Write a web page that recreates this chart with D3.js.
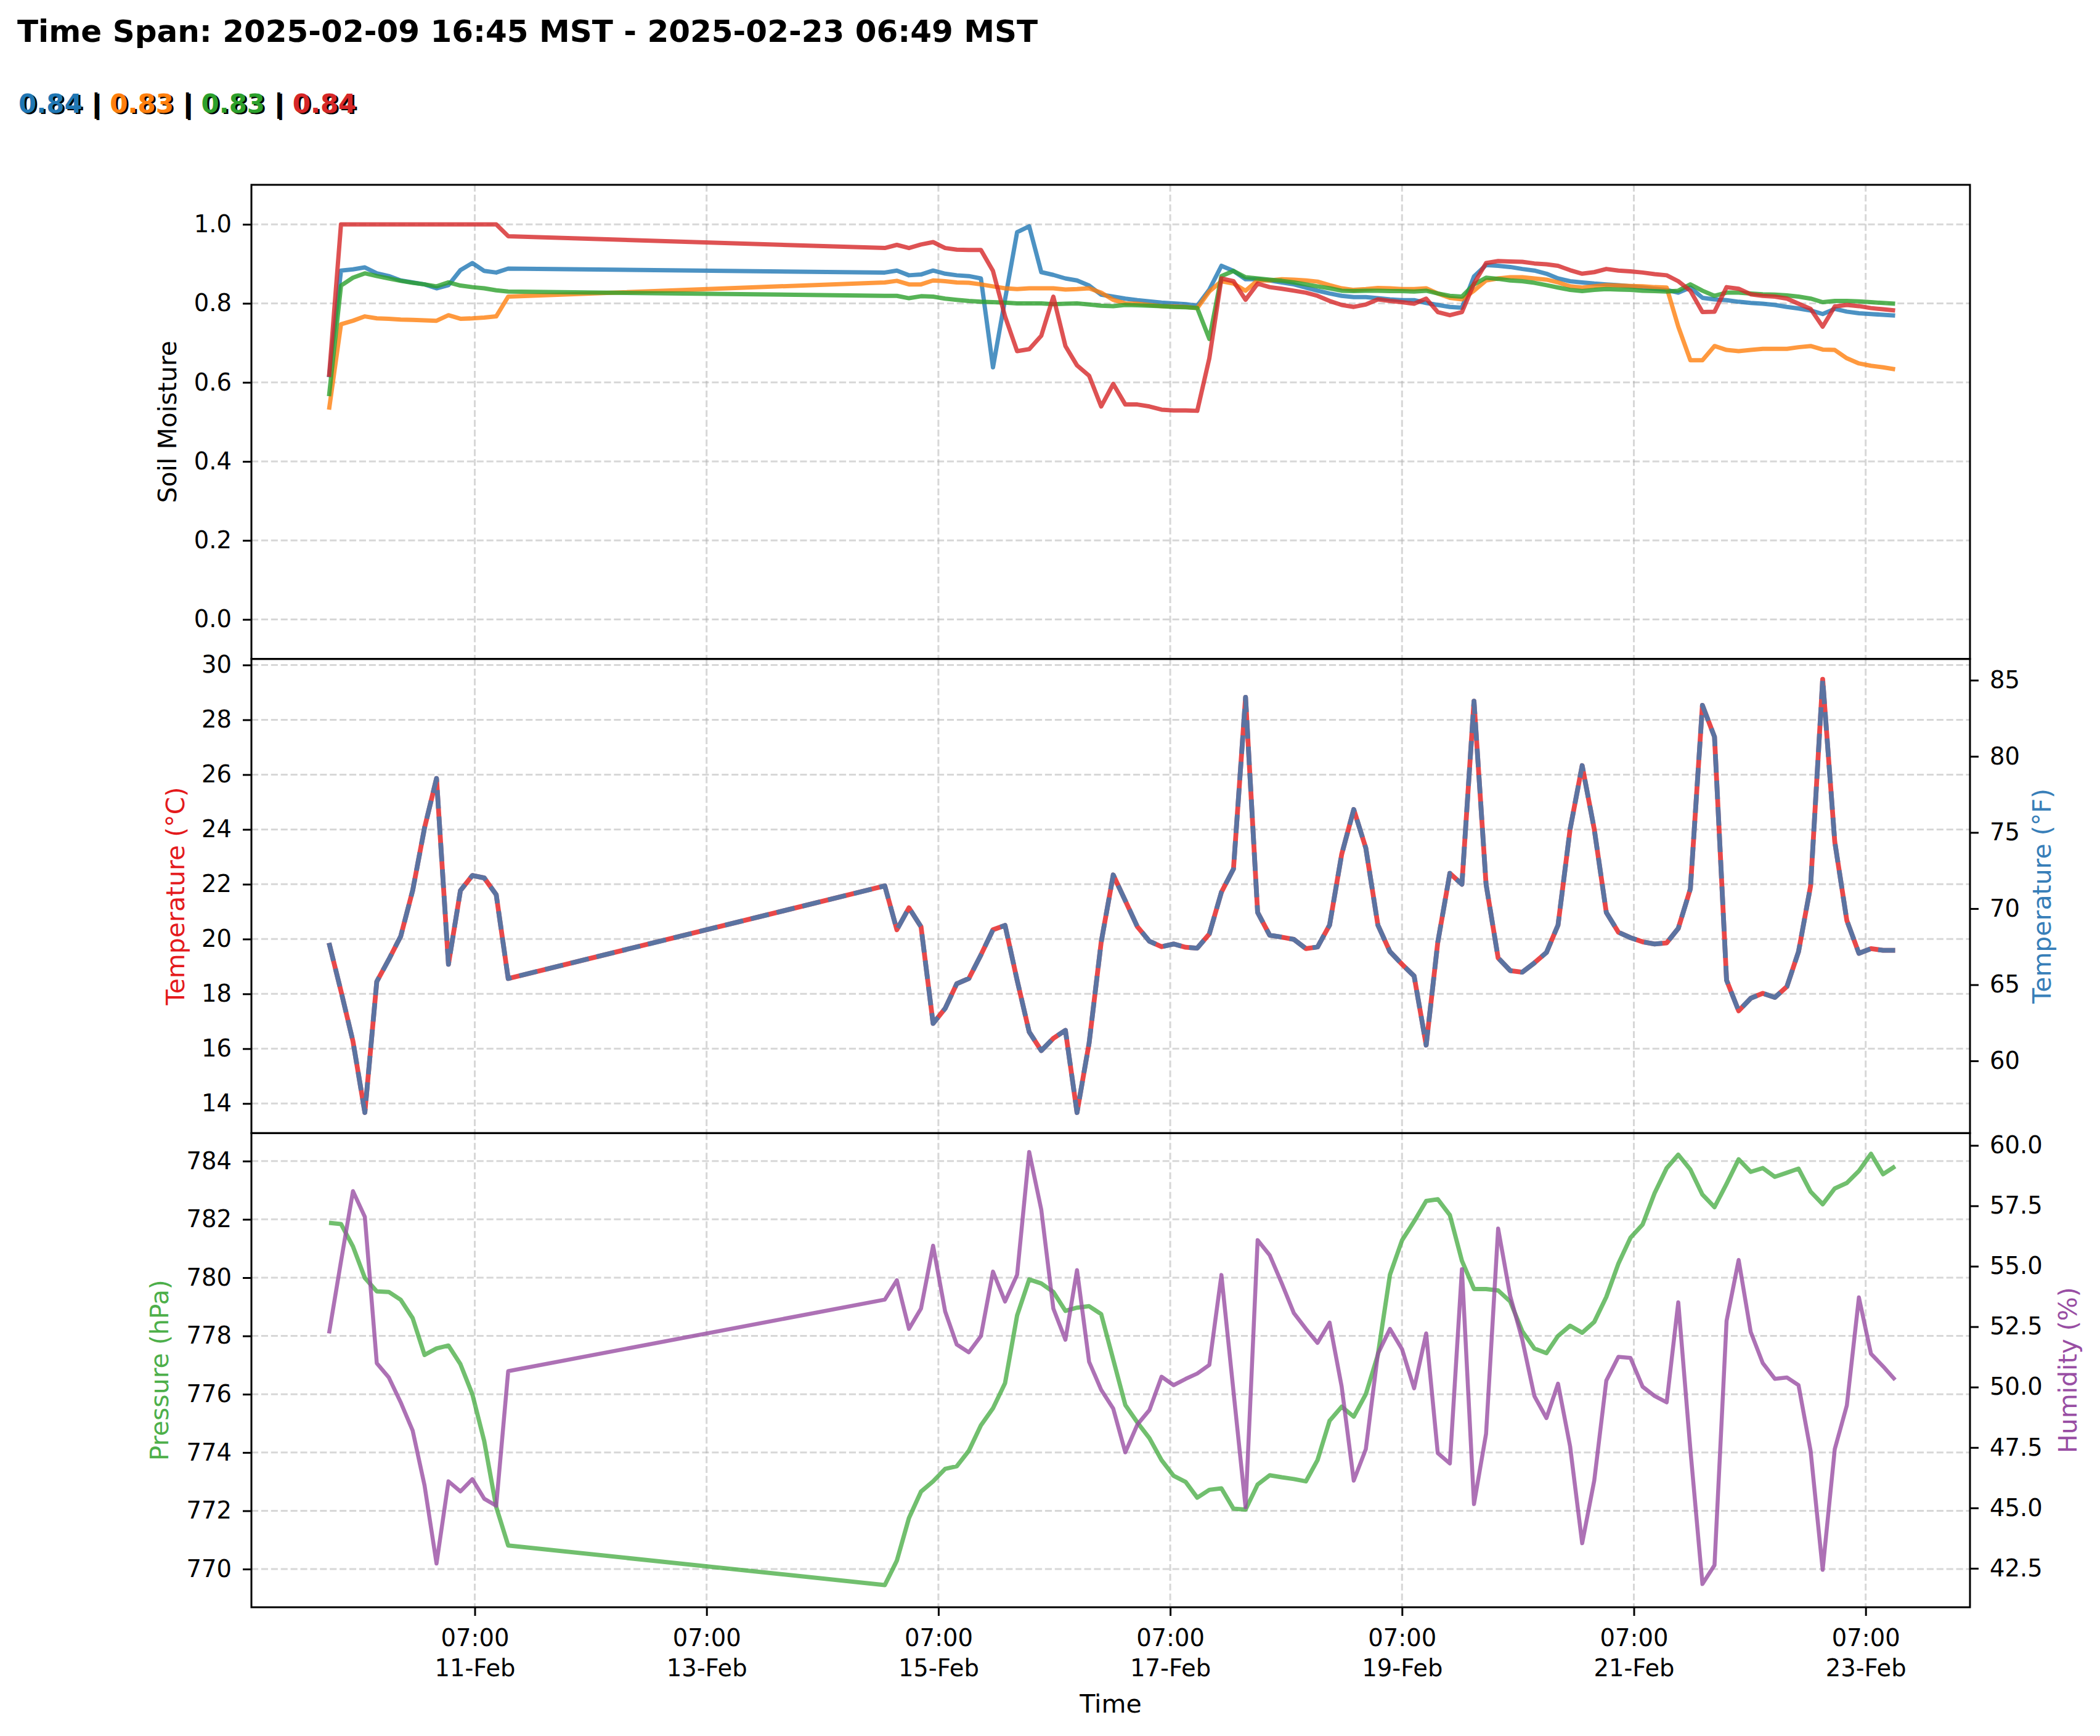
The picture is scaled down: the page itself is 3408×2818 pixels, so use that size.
<!DOCTYPE html>
<html><head><meta charset="utf-8">
<script src="https://cdn.jsdelivr.net/npm/d3@7"></script>
<style>
body{margin:0;background:#fff}
svg{display:block;background:#fff}
text{font-family:"DejaVu Sans",sans-serif}
</style>
</head><body>
<svg id="chart" width="3408" height="2818"></svg>
<script>
// ---------------- DATA ----------------
const baseTime = Date.UTC(2025, 1, 11, 7, 0); // 2025-02-11 07:00 UTC (= 00:00 MST)
// hours relative to baseTime for each reading
const timeOffsetsH = [
 -30.18,-27.70,-25.22,-22.76,-20.29,-17.81,-15.34,-12.86,-10.40,-7.92,-5.45,-2.97,-0.50,1.96,4.44,6.92,
 84.9,87.4,89.9,92.4,94.9,97.4,99.8,102.3,104.8,107.3,
 109.8,112.3,114.8,117.3,119.8,122.3,124.7,127.2,129.7,132.2,
 134.7,137.2,139.7,142.2,144.7,147.2,149.6,152.1,154.6,157.1,
 159.6,162.1,164.6,167.1,169.6,172.1,174.5,177.0,179.5,182.0,
 184.5,187.0,189.5,192.0,194.5,197.0,199.4,201.9,204.4,206.9,
 209.4,211.9,214.4,216.9,219.4,221.9,224.3,226.8,229.3,231.8,
 234.3,236.8,239.3,241.8,244.3,246.8,249.2,251.7,254.2,256.7,
 259.2,261.7,264.2,266.7,269.2,271.7,274.1,276.6,279.1,281.6,
 284.1,286.6,289.1,291.6,294.1
];
const soilSensor1 = [
 0.613,0.883,0.886,0.891,0.876,0.869,0.858,0.853,0.848,0.838,0.846,0.884,0.902,0.882,0.878,0.888,
 0.878,0.883,0.871,0.873,0.883,0.875,0.871,0.869,0.863,0.638,
 0.810,0.980,0.995,0.879,0.872,0.863,0.858,0.845,0.822,0.817,
 0.812,0.808,0.805,0.802,0.800,0.798,0.794,0.835,0.895,0.882,
 0.861,0.861,0.858,0.853,0.848,0.840,0.832,0.825,0.819,0.816,
 0.816,0.813,0.810,0.808,0.808,0.801,0.796,0.791,0.789,0.868,
 0.897,0.895,0.892,0.887,0.883,0.875,0.863,0.856,0.853,0.850,
 0.848,0.846,0.843,0.840,0.837,0.834,0.827,0.840,0.814,0.810,
 0.808,0.804,0.801,0.799,0.796,0.791,0.787,0.782,0.773,0.786,
 0.779,0.775,0.773,0.771,0.769
];
const soilSensor2 = [
 0.531,0.747,0.756,0.767,0.762,0.761,0.759,0.758,0.757,0.756,0.770,0.761,0.762,0.764,0.767,0.817,
 0.853,0.857,0.848,0.848,0.858,0.856,0.853,0.852,0.848,0.843,
 0.838,0.836,0.838,0.838,0.838,0.835,0.836,0.838,0.827,0.809,
 0.800,0.799,0.796,0.793,0.792,0.791,0.788,0.830,0.856,0.850,
 0.832,0.858,0.858,0.861,0.860,0.858,0.855,0.846,0.838,0.834,
 0.836,0.839,0.838,0.836,0.836,0.838,0.825,0.814,0.810,0.832,
 0.858,0.863,0.866,0.866,0.863,0.860,0.853,0.843,0.840,0.843,
 0.846,0.845,0.844,0.843,0.841,0.840,0.741,0.656,0.656,0.692,
 0.682,0.679,0.682,0.685,0.685,0.685,0.689,0.692,0.683,0.682,
 0.661,0.648,0.642,0.638,0.633
];
const soilSensor3 = [
 0.565,0.845,0.865,0.876,0.869,0.863,0.857,0.852,0.848,0.843,0.853,0.845,0.841,0.838,0.833,0.830,
 0.819,0.819,0.813,0.818,0.817,0.812,0.809,0.806,0.804,0.803,
 0.802,0.800,0.800,0.800,0.798,0.799,0.800,0.797,0.794,0.793,
 0.796,0.795,0.794,0.793,0.791,0.790,0.788,0.710,0.869,0.882,
 0.866,0.863,0.860,0.857,0.853,0.848,0.843,0.838,0.832,0.831,
 0.832,0.832,0.831,0.831,0.830,0.832,0.825,0.819,0.817,0.848,
 0.865,0.862,0.858,0.856,0.852,0.846,0.840,0.834,0.831,0.834,
 0.836,0.835,0.834,0.832,0.831,0.830,0.832,0.848,0.832,0.819,
 0.827,0.827,0.825,0.823,0.822,0.820,0.817,0.812,0.803,0.806,
 0.806,0.805,0.803,0.801,0.799
];
const soilSensor4 = [
 0.614,1.000,1.000,1.000,1.000,1.000,1.000,1.000,1.000,1.000,1.000,1.000,1.000,1.000,1.000,0.970,
 0.940,0.948,0.940,0.949,0.955,0.940,0.936,0.935,0.935,0.882,
 0.767,0.679,0.684,0.718,0.817,0.692,0.643,0.617,0.539,0.596,
 0.544,0.544,0.539,0.531,0.529,0.529,0.528,0.661,0.863,0.856,
 0.809,0.850,0.841,0.837,0.832,0.827,0.819,0.806,0.796,0.791,
 0.797,0.810,0.806,0.803,0.799,0.812,0.778,0.770,0.778,0.850,
 0.902,0.907,0.906,0.905,0.901,0.899,0.895,0.884,0.875,0.879,
 0.887,0.883,0.881,0.878,0.874,0.871,0.856,0.832,0.778,0.779,
 0.841,0.837,0.823,0.819,0.817,0.812,0.799,0.786,0.741,0.792,
 0.796,0.793,0.788,0.785,0.782
];
const temperatureC = [
 19.86,18.10,16.27,13.67,18.45,19.25,20.10,21.77,24.06,25.86,19.08,21.77,22.32,22.23,21.62,18.56,
 21.94,20.34,21.14,20.45,16.92,17.47,18.37,18.56,19.42,20.34,
 20.50,18.50,16.61,15.93,16.38,16.67,13.67,16.20,19.88,22.34,
 21.40,20.45,19.92,19.72,19.82,19.70,19.67,20.19,21.71,22.56,
 28.82,20.97,20.14,20.07,19.99,19.65,19.71,20.51,23.09,24.73,
 23.32,20.51,19.54,19.08,18.65,16.13,19.88,22.40,22.00,28.68,
 22.00,19.31,18.85,18.79,19.13,19.51,20.51,24.01,26.33,24.01,
 20.97,20.25,20.05,19.90,19.82,19.86,20.39,21.83,28.53,27.38,
 18.50,17.38,17.84,18.02,17.87,18.27,19.54,21.94,29.48,23.55,
 20.68,19.48,19.65,19.59,19.59
];
const pressureHPa = [
 781.88,781.84,781.07,779.99,779.53,779.51,779.24,778.61,777.35,777.57,777.67,777.03,776.00,774.39,772.13,770.81,
 769.45,770.29,771.75,772.66,773.01,773.44,773.53,774.06,774.93,775.52,
 776.38,778.70,779.94,779.80,779.51,778.86,778.97,779.02,778.75,777.19,
 775.63,775.03,774.49,773.74,773.20,772.99,772.45,772.72,772.77,772.07,
 772.04,772.90,773.22,773.15,773.09,773.01,773.74,775.09,775.57,775.23,
 776.00,777.35,780.10,781.28,781.93,782.63,782.69,782.15,780.58,779.61,
 779.61,779.56,779.18,778.16,777.57,777.41,778.00,778.35,778.11,778.48,
 779.34,780.48,781.37,781.82,782.90,783.76,784.22,783.71,782.85,782.42,
 783.22,784.06,783.63,783.76,783.46,783.60,783.74,782.95,782.52,783.06,
 783.25,783.66,784.25,783.55,783.82
];
const humidityPct = [
 52.22,55.20,58.11,57.04,50.99,50.40,49.37,48.20,45.93,42.70,46.10,45.68,46.19,45.38,45.09,50.66,
 53.62,54.42,52.41,53.25,55.85,53.13,51.76,51.44,52.11,54.78,
 53.54,54.65,59.73,57.34,53.25,51.96,54.84,51.05,49.89,49.11,
 47.30,48.45,49.05,50.43,50.08,50.34,50.56,50.92,54.64,49.82,
 45.03,56.08,55.46,54.29,53.06,52.41,51.83,52.67,50.02,46.13,
 47.43,51.38,52.41,51.57,49.95,52.22,47.27,46.84,54.88,45.16,
 48.07,56.56,53.77,51.96,49.63,48.72,50.14,47.55,43.54,46.13,
 50.27,51.25,51.21,50.02,49.63,49.37,53.51,47.43,41.85,42.63,
 52.74,55.26,52.28,50.99,50.34,50.40,50.08,47.36,42.44,47.43,
 49.24,53.71,51.38,50.86,50.30
];
const xTickDates = ["2025-02-11T07:00:00Z","2025-02-13T07:00:00Z","2025-02-15T07:00:00Z",
  "2025-02-17T07:00:00Z","2025-02-19T07:00:00Z","2025-02-21T07:00:00Z","2025-02-23T07:00:00Z"];
const soilTicks = [0.0,0.2,0.4,0.6,0.8,1.0];
const tempCTicks = [14,16,18,20,22,24,26,28,30];
const tempFTicks = [60,65,70,75,80,85];
const pressureTicks = [770,772,774,776,778,780,782,784];
const humidityTicks = [42.5,45.0,47.5,50.0,52.5,55.0,57.5,60.0];
const titleText = "Time Span: 2025-02-09 16:45 MST - 2025-02-23 06:49 MST";
const latestLabels = ["0.84","0.83","0.83","0.84"];
const soilColors = ["#1f77b4","#ff7f0e","#2ca02c","#d62728"];

// ---------------- LAYOUT ----------------
const svg = d3.select("#chart");
const L = 408, R = 3197, TOP = 300, PH = 769.67;
const tops = [TOP, TOP + PH, TOP + 2 * PH];
const TICK_FS = 38.5, LABEL_FS = 41;

const times = timeOffsetsH.map(h => new Date(baseTime + h * 3600e3));
const x = d3.scaleUtc()
  .domain([new Date(baseTime - 46.25 * 3600e3), new Date(baseTime + 309.6 * 3600e3)])
  .range([L, R]);
const xTicks = xTickDates.map(s => new Date(s));

const ySoil = d3.scaleLinear().domain([-0.1, 1.1]).range([tops[0] + PH, tops[0]]);
const yTC = d3.scaleLinear().domain([12.92, 30.22]).range([tops[1] + PH, tops[1]]);
const yTF = d3.scaleLinear().domain([12.92 * 9 / 5 + 32, 30.22 * 9 / 5 + 32]).range([tops[1] + PH, tops[1]]);
const yP = d3.scaleLinear().domain([768.69, 784.96]).range([tops[2] + PH, tops[2]]);
const yH = d3.scaleLinear().domain([40.89, 60.51]).range([tops[2] + PH, tops[2]]);

// ---------------- GRID ----------------
function grid(top, yScale, yTicks) {
  const g = svg.append("g").attr("stroke", "#b0b0b0").attr("stroke-opacity", 0.5)
    .attr("stroke-width", 3).attr("stroke-dasharray", "11.1,4.8");
  g.selectAll("line.v").data(xTicks).join("line").attr("class", "v")
    .attr("x1", d => x(d)).attr("x2", d => x(d)).attr("y1", top).attr("y2", top + PH);
  g.selectAll("line.h").data(yTicks).join("line").attr("class", "h")
    .attr("x1", L).attr("x2", R).attr("y1", d => yScale(d)).attr("y2", d => yScale(d));
}
grid(tops[0], ySoil, soilTicks);
grid(tops[1], yTC, tempCTicks);
grid(tops[2], yP, pressureTicks);

// ---------------- LINES ----------------
const idx = d3.range(times.length);
function drawLine(values, yScale, color, width, opacity, dash) {
  const line = d3.line().x(i => x(times[i])).y(i => yScale(values[i]));
  const p = svg.append("path").datum(idx).attr("d", line)
    .attr("fill", "none").attr("stroke", color).attr("stroke-width", width)
    .attr("stroke-opacity", opacity).attr("stroke-linejoin", "round").attr("stroke-linecap", "butt");
  if (dash) p.attr("stroke-dasharray", dash);
  return p;
}
[soilSensor1, soilSensor2, soilSensor3, soilSensor4].forEach((s, k) =>
  drawLine(s, ySoil, soilColors[k], 7, 0.8));

const temperatureF = temperatureC.map(c => c * 9 / 5 + 32);
drawLine(temperatureC, yTC, "#e41a1c", 7.8, 0.8);
drawLine(temperatureF, yTF, "#377eb8", 7.8, 0.8, "30,13");

drawLine(pressureHPa, yP, "#4daf4a", 7, 0.8);
drawLine(humidityPct, yH, "#984ea3", 6.5, 0.8);

// ---------------- FRAMES ----------------
tops.forEach(t => svg.append("rect").attr("x", L).attr("y", t).attr("width", R - L).attr("height", PH)
  .attr("fill", "none").attr("stroke", "#000").attr("stroke-width", 3));

// ---------------- AXES ----------------
function styleAxis(g) {
  g.attr("font-family", null).attr("font-size", null);
  g.select(".domain").remove();
  g.selectAll(".tick line").attr("stroke", "#000").attr("stroke-width", 3);
  g.selectAll(".tick text").attr("fill", "#000").style("font-size", TICK_FS + "px");
}
svg.append("g").attr("transform", `translate(${L},0)`)
  .call(d3.axisLeft(ySoil).tickValues(soilTicks).tickFormat(d3.format(".1f")).tickSize(14).tickPadding(18).tickSizeOuter(0))
  .call(styleAxis);
svg.append("g").attr("transform", `translate(${L},0)`)
  .call(d3.axisLeft(yTC).tickValues(tempCTicks).tickFormat(d3.format("d")).tickSize(14).tickPadding(18).tickSizeOuter(0))
  .call(styleAxis);
svg.append("g").attr("transform", `translate(${R},0)`)
  .call(d3.axisRight(yTF).tickValues(tempFTicks).tickFormat(d3.format("d")).tickSize(14).tickPadding(18).tickSizeOuter(0))
  .call(styleAxis);
svg.append("g").attr("transform", `translate(${L},0)`)
  .call(d3.axisLeft(yP).tickValues(pressureTicks).tickFormat(d3.format("d")).tickSize(14).tickPadding(18).tickSizeOuter(0))
  .call(styleAxis);
svg.append("g").attr("transform", `translate(${R},0)`)
  .call(d3.axisRight(yH).tickValues(humidityTicks).tickFormat(d3.format(".1f")).tickSize(14).tickPadding(18).tickSizeOuter(0))
  .call(styleAxis);

const xAxisG = svg.append("g").attr("transform", `translate(0,${tops[2] + PH})`)
  .call(d3.axisBottom(x).tickValues(xTicks).tickFormat("").tickSize(14).tickSizeOuter(0))
  .call(styleAxis);
xAxisG.selectAll(".tick text").remove();
const fmtTime = d3.utcFormat("%H:%M"), fmtDay = d3.utcFormat("%d-%b");
xAxisG.selectAll(".tick").append("text").attr("fill", "#000").attr("text-anchor", "middle")
  .style("font-size", TICK_FS + "px")
  .each(function (d) {
    const t = d3.select(this);
    t.append("tspan").attr("x", 0).attr("y", 63).text(fmtTime(d));
    t.append("tspan").attr("x", 0).attr("y", 112).text(fmtDay(d));
  });

// ---------------- AXIS LABELS ----------------
function vLabel(text, cx, cy, color) {
  svg.append("text").attr("transform", `translate(${cx},${cy}) rotate(-90)`)
    .attr("text-anchor", "middle").attr("dominant-baseline", "central")
    .style("font-size", LABEL_FS + "px").attr("fill", color).text(text);
}
vLabel("Soil Moisture", 272, tops[0] + PH / 2, "#000");
vLabel("Temperature (°C)", 285, tops[1] + PH / 2, "#e41a1c");
vLabel("Temperature (°F)", 3314, tops[1] + PH / 2, "#377eb8");
vLabel("Pressure (hPa)", 259, tops[2] + PH / 2, "#4daf4a");
vLabel("Humidity (%)", 3356, tops[2] + PH / 2, "#984ea3");

svg.append("text").attr("x", (L + R) / 2).attr("y", 2780).attr("text-anchor", "middle")
  .style("font-size", LABEL_FS + "px").attr("fill", "#000").text("Time");

// ---------------- TITLE & READINGS ----------------
svg.append("text").attr("x", 28).attr("y", 68).style("font-size", "50px").style("font-weight", "bold")
  .attr("fill", "#000").text(titleText);

function readings(dx, dy, shadow) {
  const t = svg.append("text").attr("x", 30 + dx).attr("y", 183 + dy)
    .style("font-size", "42px").style("font-weight", "bold").attr("xml:space", "preserve");
  latestLabels.forEach((v, k) => {
    if (k > 0) t.append("tspan").attr("fill", "#000").text(" | ");
    t.append("tspan").attr("fill", shadow ? "#000" : soilColors[k]).text(v);
  });
}
readings(3, 2, true);
readings(0, 0, false);
</script>
</body></html>
